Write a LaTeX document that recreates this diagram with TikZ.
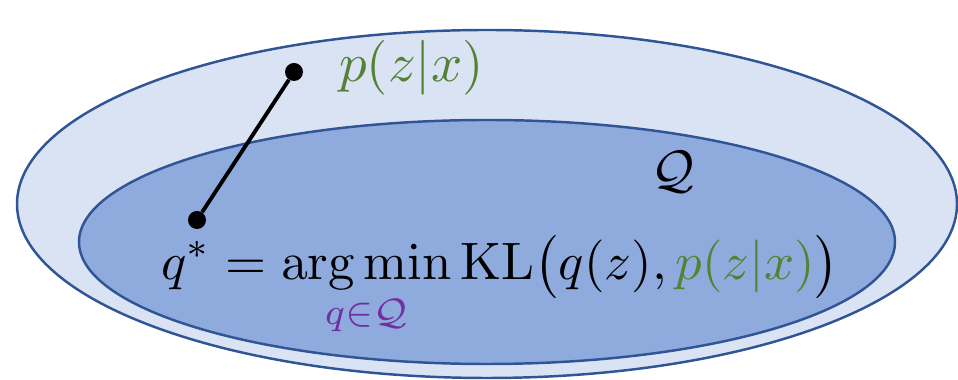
\documentclass[tikz,border=0pt]{standalone}
\usepackage{amsmath,amssymb}
\usepackage{tikz}
\usetikzlibrary{positioning}

\definecolor{setline}{RGB}{47,85,151}
\definecolor{outerfill}{RGB}{218,227,243}
\definecolor{innerfill}{RGB}{143,170,220}
\definecolor{truegreen}{RGB}{84,130,53}
\definecolor{subpurple}{RGB}{112,48,160}

\begin{document}
\begin{tikzpicture}[
  setshape/.style={draw=setline, line width=1.4pt},
  dot/.style={circle, fill=black, inner sep=0pt, minimum size=0.36cm},
  link/.style={line width=2.2pt},
  bigmath/.style={scale=3, inner sep=0pt}
]
\useasboundingbox (0,0) rectangle (19.16,7.6);

\draw[setshape, fill=outerfill] (9.74,3.52) ellipse [x radius=9.4, y radius=3.48];
\draw[setshape, fill=innerfill] (9.74,2.76) ellipse [x radius=8.16, y radius=2.44];

\node[dot] (pdot) at (5.88,6.16) {};
\node[dot] (qdot) at (3.94,3.2) {};
\draw[link] (pdot) -- (qdot);

\node[bigmath, scale=1.04, anchor=base west, text=truegreen] (ptrue) at (6.76,5.96) {$p(z|x)$};
\node[bigmath] (family) at (13.46,4.16) {$\mathcal{Q}$};
\node[bigmath, anchor=base] (optimum) at (10.0,2.0)
  {$\displaystyle q^* = \operatorname*{arg\,min}_{\textcolor{subpurple}{q\in\mathcal{Q}}} \mathrm{KL}\bigl(q(z), \textcolor{truegreen}{p(z|x)}\bigr)$};

\end{tikzpicture}
\end{document}
